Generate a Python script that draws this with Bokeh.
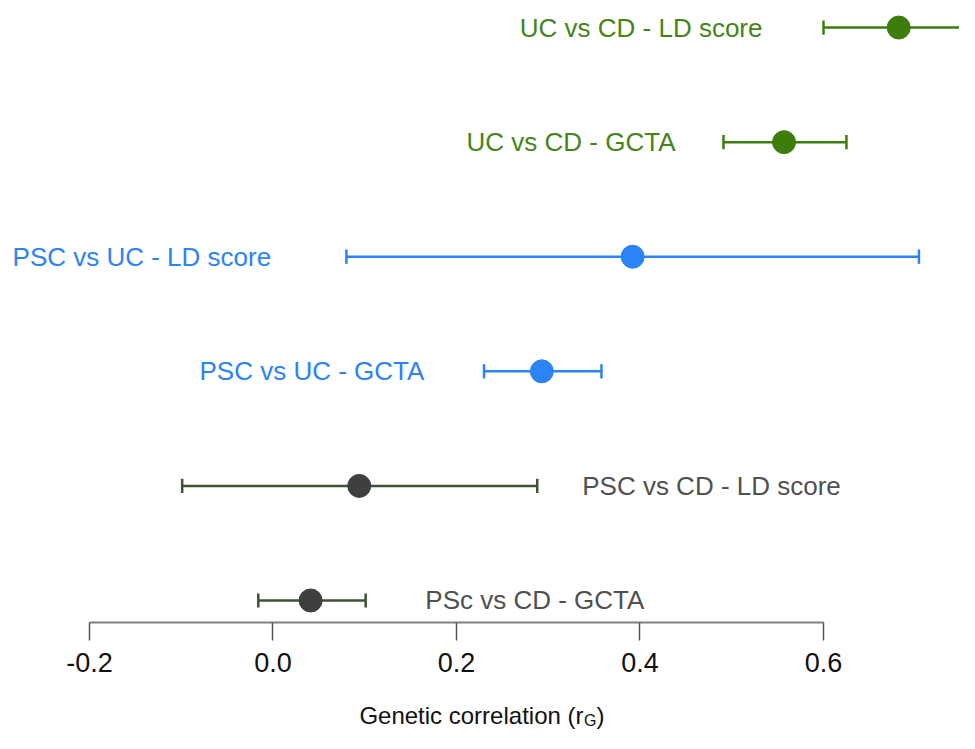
from bokeh.plotting import figure
from bokeh.models import ColumnDataSource, FixedTicker
from bokeh.layouts import column
from bokeh.core.properties import value
from bokeh.embed import file_html
from bokeh.resources import INLINE

# ---- data (bottom row first) ----
labels = ["PSc vs CD - GCTA", "PSC vs CD - LD score", "PSC vs UC - GCTA",
          "PSC vs UC - LD score", "UC vs CD - GCTA", "UC vs CD - LD score"]
estimate = [0.041, 0.094, 0.293, 0.392, 0.557, 0.682]
lower = [-0.016, -0.099, 0.230, 0.080, 0.491, 0.600]
upper = [0.101, 0.288, 0.358, 0.704, 0.625, 0.762]
x_ticks = [-0.2, 0.0, 0.2, 0.4, 0.6]
x_title = ["Genetic correlation (r", "G", ")"]

# ---- styling ----
green, blue, dark = "#3c7d0c", "#2b83f6", "#3f3f3f"
line_cols = ["#3e5234", "#3e5234", blue, blue, green, green]
dot_cols = [dark, dark, blue, blue, green, green]
text_cols = ["#505050", "#505050", blue, blue, "#448519", "#448519"]
label_x = [0.166, 0.337, 0.165, -0.002, 0.4387, 0.5335]
label_align = ["left", "left", "right", "right", "right", "right"]
rows = list(range(1, len(labels) + 1))
cap = 0.062
FONT = "Liberation Sans"

src = ColumnDataSource(dict(
    y=rows, est=estimate, lo=lower, hi=upper,
    ylo=[r - cap for r in rows], yhi=[r + cap for r in rows],
    lc=line_cols, dc=dot_cols, tc=text_cols,
    lx=label_x, la=label_align, lab=labels,
))

W = 959
x0, x1 = -0.29700, 0.74823

p = figure(width=W, height=690, output_backend="svg", toolbar_location=None,
           x_range=(x0, x1), y_range=(0.808, 6.236),
           y_axis_location=None, min_border_left=0, min_border_right=0,
           min_border_top=0, min_border_bottom=68)
p.outline_line_color = None
p.xgrid.visible = False
p.ygrid.visible = False

p.segment(x0="lo", x1="hi", y0="y", y1="y", line_color="lc", line_width=2.5, source=src)
p.segment(x0="lo", x1="lo", y0="ylo", y1="yhi", line_color="lc", line_width=2.5, source=src)
p.segment(x0="hi", x1="hi", y0="ylo", y1="yhi", line_color="lc", line_width=2.5, source=src)
p.scatter(x="est", y="y", size=23, fill_color="dc", line_color="dc", source=src)
p.text(x="lx", y="y", text="lab", text_align="la", text_baseline="middle",
       text_color="tc", text_font=value(FONT), text_font_size="26px", source=src)

ax = p.xaxis[0]
ax.ticker = FixedTicker(ticks=x_ticks)
ax.bounds = (x_ticks[0], x_ticks[-1])
ax.major_label_overrides = {t: f"{t:.1f}" for t in x_ticks}
ax.axis_line_color = "#808080"
ax.axis_line_width = 2
ax.major_tick_line_color = "#555555"
ax.major_tick_line_width = 1.5
ax.major_tick_out = 18
ax.major_tick_in = 0
ax.minor_tick_line_color = None
ax.major_label_standoff = 12
ax.major_label_text_font = FONT
ax.major_label_text_font_size = "27px"
ax.major_label_text_color = "#111111"

# axis title with subscript, in a strip below the plot
t = figure(width=W, height=43, output_backend="svg", toolbar_location=None,
           x_range=p.x_range, y_range=(0, 43),
           x_axis_location=None, y_axis_location=None,
           min_border_left=0, min_border_right=0, min_border_top=0, min_border_bottom=0)
t.outline_line_color = None
t.xgrid.visible = False
t.ygrid.visible = False
tsrc = ColumnDataSource(dict(
    x=[0.3384, 0.3390, 0.3525], y=[18, 13, 18], txt=x_title,
    size=["24px", "16px", "24px"], align=["right", "left", "left"],
))
t.text(x="x", y="y", text="txt", text_align="align", text_baseline="alphabetic",
       text_font=value(FONT), text_font_size="size", text_color="#111111", source=tsrc)

layout = column(p, t, spacing=0)
open("out.html", "w").write(file_html(layout, INLINE))
